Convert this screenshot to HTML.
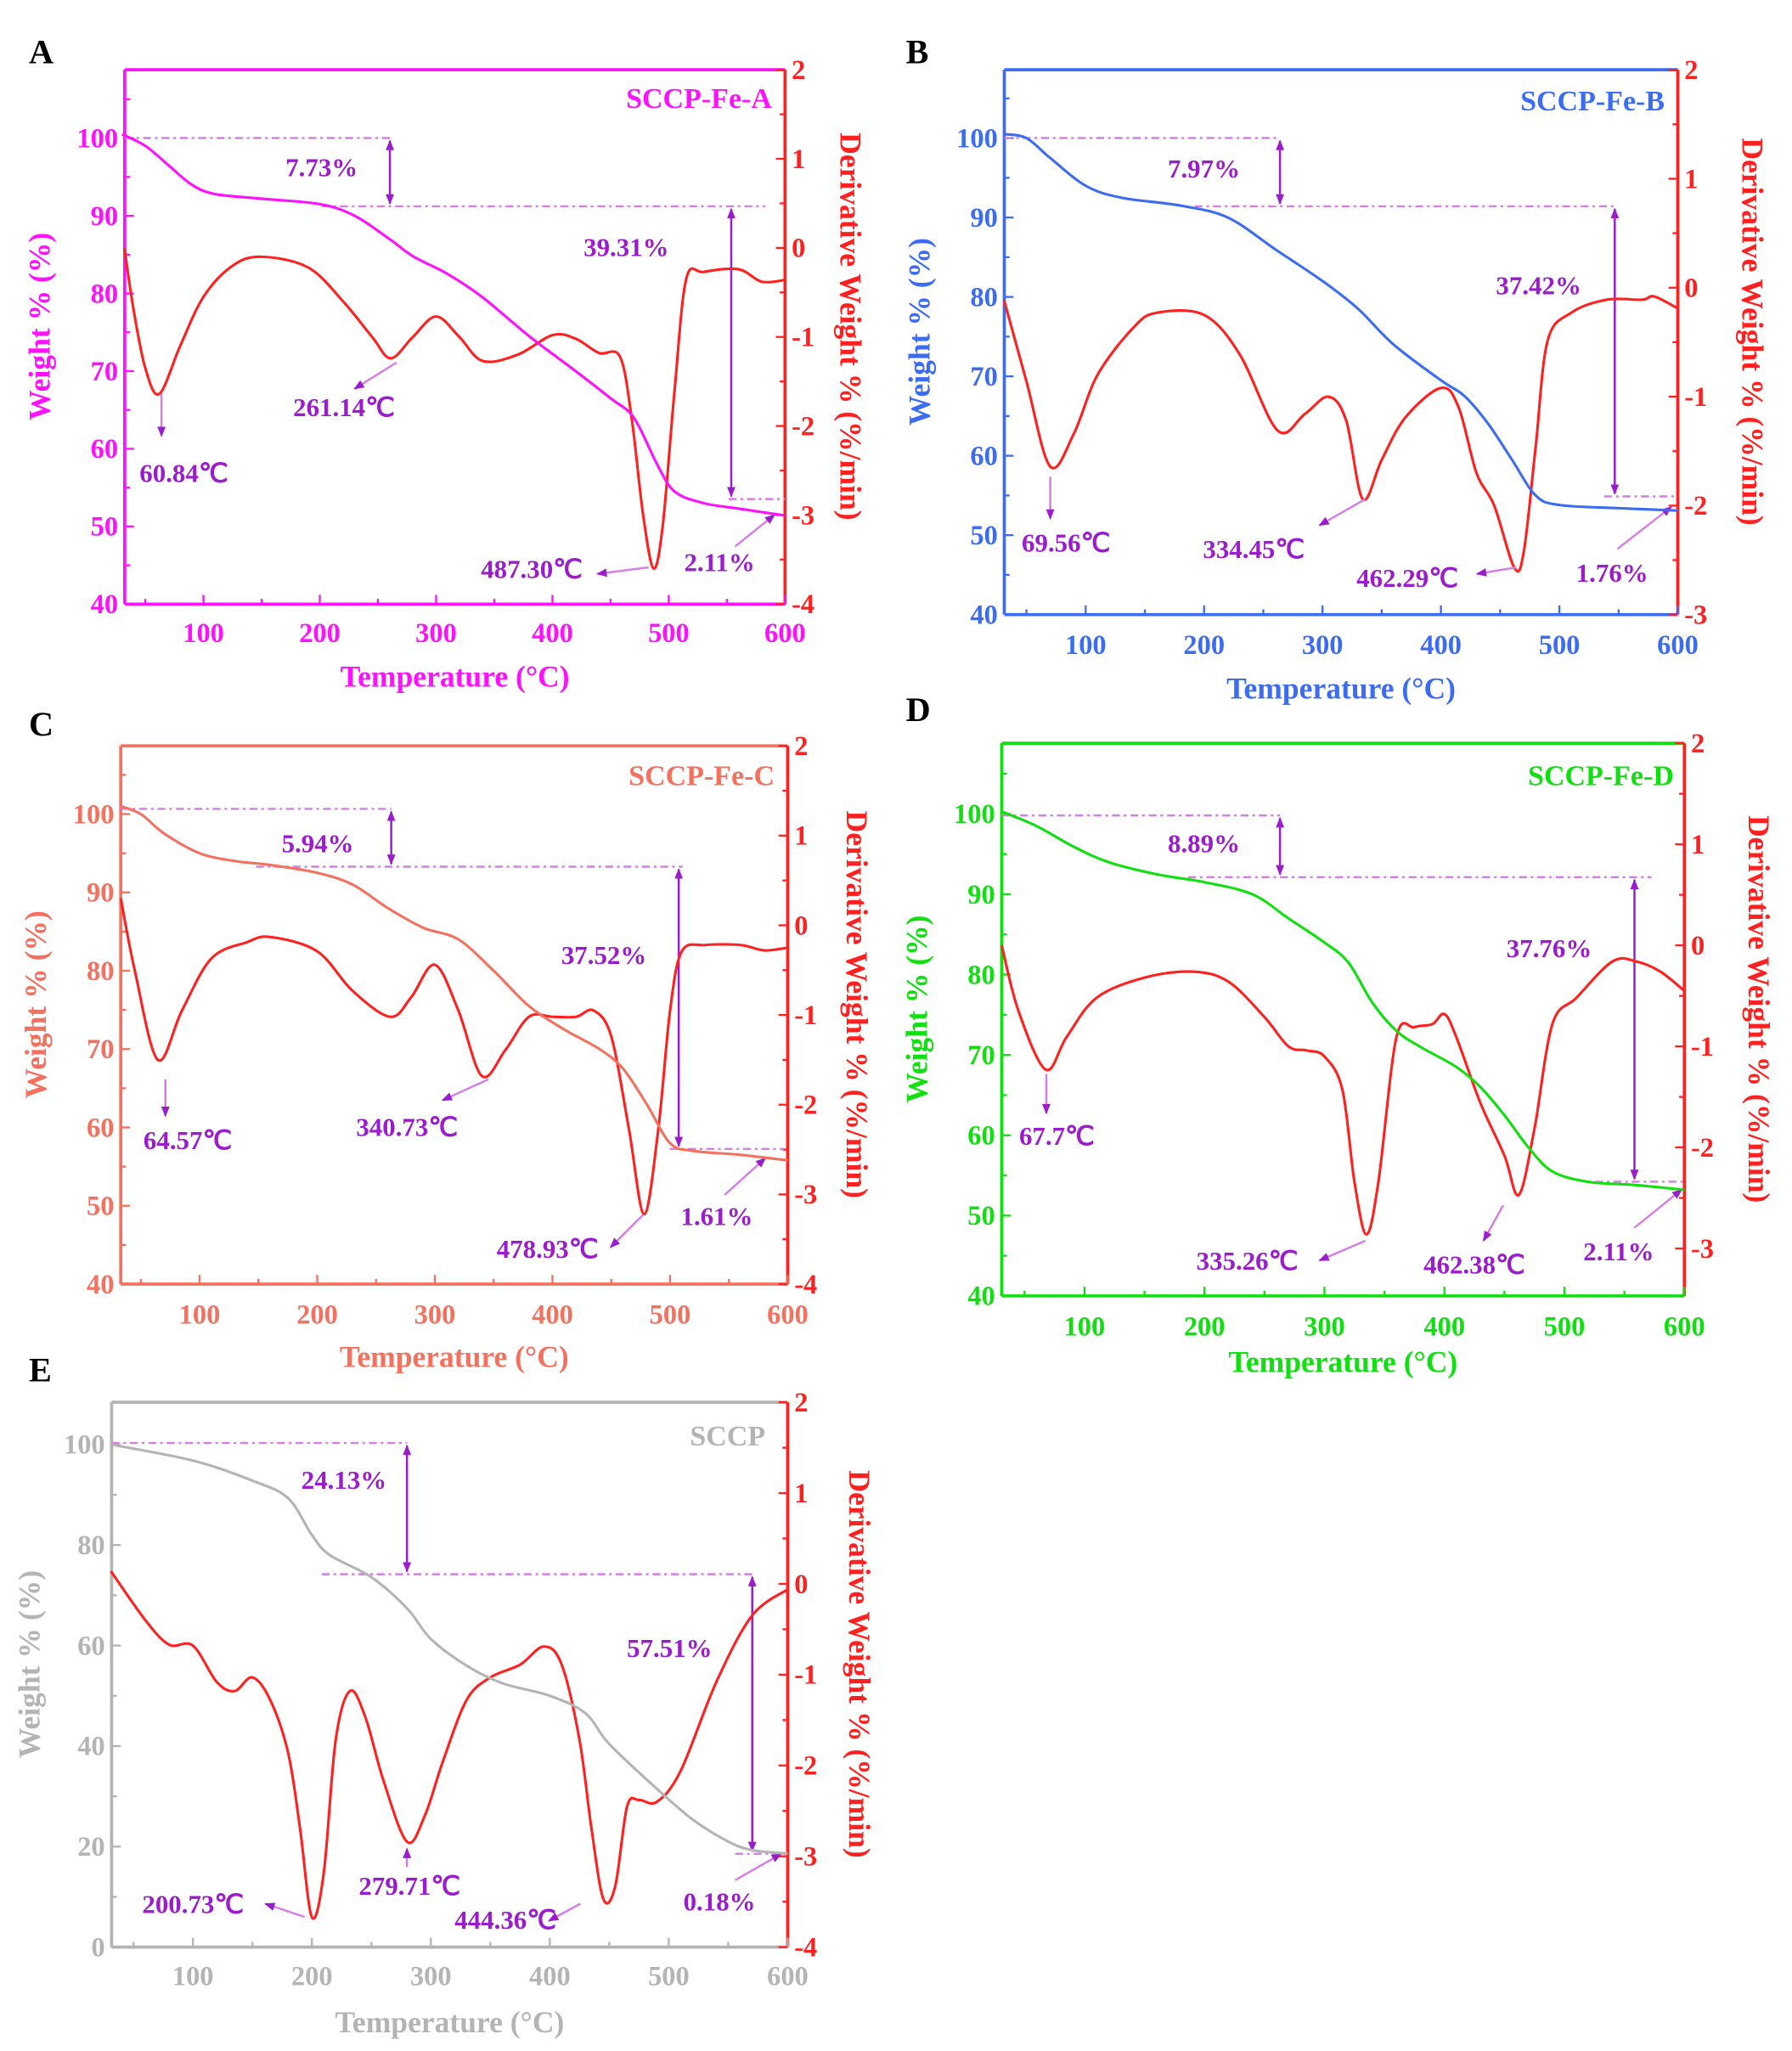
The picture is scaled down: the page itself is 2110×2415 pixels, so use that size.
<!DOCTYPE html>
<html><head><meta charset="utf-8"><title>TGA / DTG curves</title>
<style>
html,body{margin:0;padding:0;background:#fff;}
svg{display:block;font-family:"Liberation Serif",serif;}
</style></head>
<body>
<svg id="fig" width="2110" height="2415" viewBox="0 0 1365 1562" xmlns="http://www.w3.org/2000/svg"></svg>
<script>
// ---------- DATA ----------
const tgTempsA=[30,50,70,90,110,150,200,230,260,280,310,340,380,420,450,470,490,505,530,560,600];
const tgA=[100.5,99,96.5,94,92.8,92.2,91.5,90,87,84.8,82.5,79.5,74.5,70,66.5,64,58,54.5,53,52.3,51.4];
const dtgTempsA=[32,40,50,62,80,100,125,150,190,220,245,261,280,300,320,340,370,400,420,440,458,468,478,487,495,505,515,530,560,580,600];
const dtgA=[0,-0.7,-1.35,-1.64,-1.1,-0.55,-0.2,-0.1,-0.22,-0.6,-1.0,-1.24,-1.0,-0.77,-1.0,-1.27,-1.2,-0.98,-1.02,-1.18,-1.22,-1.9,-3.0,-3.6,-3.1,-1.6,-0.35,-0.27,-0.24,-0.38,-0.36];

const tgTempsB=[31,50,70,100,130,180,220,260,300,330,360,400,420,440,460,480,500,550,600];
const tgB=[100.5,100,97.5,94,92.5,91.5,90,86,82,78.5,74,69.5,67.5,64,59.5,55,53.8,53.4,53.1];
const dtgTempsB=[31,50,70,90,110,140,160,200,230,262,285,305,320,334,350,370,400,415,430,445,462,470,480,490,510,540,570,580,600];
const dtgB=[-0.11,-0.86,-1.64,-1.34,-0.8,-0.37,-0.23,-0.25,-0.61,-1.31,-1.16,-1.0,-1.22,-1.94,-1.58,-1.19,-0.92,-1.1,-1.7,-2.0,-2.57,-2.42,-1.46,-0.49,-0.23,-0.11,-0.11,-0.08,-0.19];

const tgTempsC=[33,50,70,100,130,160,200,230,260,290,320,350,380,410,440,460,480,500,520,560,600];
const tgC=[101,100,97.5,95,94,93.5,92.5,91,88,85.5,84,80,75.5,72.5,70,67.5,63,58,57,56.5,55.8];
const dtgTempsC=[33,45,64.5,85,110,140,160,200,230,262,280,300,320,340,360,380,400,420,435,450,465,478,490,500,510,530,560,580,600];
const dtgC=[0.3,-0.51,-1.5,-0.95,-0.37,-0.19,-0.13,-0.29,-0.73,-1.02,-0.8,-0.44,-0.95,-1.68,-1.39,-1.02,-1.02,-1.02,-0.95,-1.24,-2.27,-3.22,-2.27,-0.95,-0.29,-0.22,-0.22,-0.28,-0.25];

const tgTempsD=[31,60,90,120,160,200,240,270,300,320,340,360,380,410,430,450,470,490,520,560,600];
const tgD=[100.3,98.5,96,94,92.5,91.5,90,87,84,81.5,76.5,73,71,68.5,66,62.5,58.5,55.5,54.2,53.8,53.2];
const dtgTempsD=[31,45,67.7,85,110,150,190,220,250,270,285,300,315,325,335,345,360,375,390,400,410,430,450,462,475,490,510,540,560,580,600];
const dtgD=[0,-0.65,-1.23,-0.91,-0.52,-0.32,-0.26,-0.36,-0.71,-1.0,-1.04,-1.1,-1.43,-2.34,-2.86,-2.34,-0.91,-0.81,-0.78,-0.68,-0.91,-1.56,-2.08,-2.47,-1.82,-0.78,-0.52,-0.16,-0.16,-0.26,-0.45];

const tgTempsE=[31,100,150,180,200,215,250,280,300,330,360,400,430,450,490,520,550,570,600];
const tgE=[100,96.8,92.8,89.3,82,78,73.6,67.4,61.3,56,52.5,50,46.5,40.4,31.5,25.4,21,19.3,18.6];
const dtgTempsE=[31,60,80,100,120,135,150,165,180,190,200,210,220,232,245,260,280,295,310,330,350,375,395,410,425,435,445,455,465,475,490,510,540,570,600];
const dtgE=[0.14,-0.4,-0.67,-0.68,-1.08,-1.18,-1.03,-1.28,-1.86,-2.69,-3.67,-3.18,-1.72,-1.18,-1.47,-2.16,-2.84,-2.55,-1.96,-1.28,-1.03,-0.89,-0.69,-0.89,-1.72,-2.69,-3.47,-3.33,-2.45,-2.38,-2.4,-2.06,-1.08,-0.35,-0.06];

const panelLabels=["A","B","C","D","E"];
const sampleNames=["SCCP-Fe-A","SCCP-Fe-B","SCCP-Fe-C","SCCP-Fe-D","SCCP"];
const leftTicksAD=[40,50,60,70,80,90,100];
const leftTicksE=[0,20,40,60,80,100];
const xTicks=[100,200,300,400,500,600];

// ---------- LAYOUT ----------
const svg=document.getElementById('fig');
const NS='http://www.w3.org/2000/svg';
const RED='#ff2020', PUR='#9a1ccc', LPUR='#d57ee6';
function el(tag,attrs,parent){const e=document.createElementNS(NS,tag);for(const k in attrs)e.setAttribute(k,attrs[k]);(parent||svg).appendChild(e);return e;}
function txt(s,x,y,attrs,parent){const t=el('text',Object.assign({x:x,y:y},attrs),parent);t.textContent=s;return t;}

const panels=[
 {id:'a',x0:95,x1:598,tmin:32.3,y0:53,y1:460,lmin:40,lmax:108.8,rmin:-4,rmax:2,col:'#ff10ff',tg:[tgTempsA,tgA],dtg:[dtgTempsA,dtgA],lt:leftTicksAD,lminor:5,
  letter:[22,48],xt:[155,489],xtitle:523,ltitle:38,rtitle:640,
  ann:{d1:[105,297,157,245],d2:[557,380,583],d3:[555,598],p1:['7.73%',245,134],p2:['39.31%',477,195],p3:['2.11%',548,435],a3:[560,416,590,392],
   peaks:[['60.84℃',140,367,[123,300,123,332]],['261.14℃',262,317,[302,276,270,296]],['487.30℃',405,440,[494,432,455,437]]],name:[588,82]}},
 {id:'b',x0:765,x1:1278,tmin:31.3,y0:53,y1:468,lmin:40,lmax:108.6,rmin:-3,rmax:2,col:'#3b6cf2',tg:[tgTempsB,tgB],dtg:[dtgTempsB,dtgB],lt:leftTicksAD,lminor:5,
  letter:[690,48],xt:[827,498],xtitle:532,ltitle:708,rtitle:1327,
  ann:{d1:[105,975,157,910],d2:[1230,378,1230],d3:[1222,1278],p1:['7.97%',917,135],p2:['37.42%',1172,224],p3:['1.76%',1228,443],a3:[1232,418,1273,386],
   peaks:[['69.56℃',812,420,[800,363,800,395]],['334.45℃',955,425,[1040,380,1005,400]],['462.29℃',1072,447,[1155,432,1125,437]]],name:[1268,84]}},
 {id:'c',x0:92,x1:600,tmin:33,y0:568,y1:978,lmin:40,lmax:108.7,rmin:-4,rmax:2,col:'#f4705f',tg:[tgTempsC,tgC],dtg:[dtgTempsC,dtgC],lt:leftTicksAD,lminor:5,
  letter:[22,560],xt:[152,1008],xtitle:1041,ltitle:35,rtitle:645,
  ann:{d1:[616,298,660,195],d2:[517,875,520],d3:[510,597],p1:['5.94%',242,649],p2:['37.52%',460,734],p3:['1.61%',546,933],a3:[552,910,583,882],
   peaks:[['64.57℃',143,875,[126,822,126,850]],['340.73℃',310,865,[372,822,337,838]],['478.93℃',417,958,[490,925,465,950]]],name:[590,598]}},
 {id:'d',x0:763,x1:1283,tmin:31,y0:566,y1:987,lmin:40,lmax:108.8,rmin:-3.47,rmax:2,col:'#10e010',tg:[tgTempsD,tgD],dtg:[dtgTempsD,dtgD],lt:leftTicksAD,lminor:5,
  letter:[690,549],xt:[826,1017],xtitle:1045,ltitle:706,rtitle:1332,
  ann:{d1:[621,975,668,905],d2:[1245,900,1258],d3:[1215,1283],p1:['8.89%',917,649],p2:['37.76%',1180,729],p3:['2.11%',1233,960],a3:[1245,935,1281,906],
   peaks:[['67.7℃',805,872,[797,818,797,848]],['335.26℃',950,967,[1040,945,1005,960]],['462.38℃',1123,970,[1145,918,1130,945]]],name:[1275,598]}},
 {id:'e',x0:85,x1:600,tmin:31.6,y0:1068,y1:1483,lmin:0,lmax:108.4,rmin:-4,rmax:2,col:'#b4b4b4',tg:[tgTempsE,tgE],dtg:[dtgTempsE,dtgE],lt:leftTicksE,lminor:10,
  letter:[22,1052],xt:[147,1512],xtitle:1548,ltitle:30,rtitle:647,
  ann:{d1:[1099,310,1199,245],d2:[573,1412,575],d3:[560,600],p1:['24.13%',262,1134],p2:['57.51%',510,1262],p3:['0.18%',548,1455],a3:[560,1432,595,1412],
   peaks:[['200.73℃',147,1457,[232,1460,202,1450]],['279.71℃',312,1443,[310,1422,310,1408]],['444.36℃',385,1469,[442,1450,418,1463]]],name:[583,1101]}}
];

function smoothPath(pts){
  let d='M'+pts[0][0].toFixed(2)+','+pts[0][1].toFixed(2);
  for(let i=0;i<pts.length-1;i++){
    const p0=pts[i-1]||pts[i],p1=pts[i],p2=pts[i+1],p3=pts[i+2]||p2;
    const c1=[p1[0]+(p2[0]-p0[0])/6,p1[1]+(p2[1]-p0[1])/6];
    const c2=[p2[0]-(p3[0]-p1[0])/6,p2[1]-(p3[1]-p1[1])/6];
    d+=' C'+c1[0].toFixed(2)+','+c1[1].toFixed(2)+' '+c2[0].toFixed(2)+','+c2[1].toFixed(2)+' '+p2[0].toFixed(2)+','+p2[1].toFixed(2);
  }
  return d;
}

const defs=el('defs',{});
const mk=el('marker',{id:'ah',viewBox:'0 0 10 10',refX:'9',refY:'5',markerWidth:'5',markerHeight:'5',orient:'auto-start-reverse'},defs);
el('path',{d:'M0,1 L10,5 L0,9 z',fill:PUR},mk);

panels.forEach((P,pi)=>{
  const g=el('g',{});
  
  
  const X=t=>P.x0+(t-P.tmin)/(600-P.tmin)*(P.x1-P.x0);
  const YL=v=>P.y1-(v-P.lmin)/(P.lmax-P.lmin)*(P.y1-P.y0);
  const YR=v=>P.y1-(v-P.rmin)/(P.rmax-P.rmin)*(P.y1-P.y0);
  const fs=21;

  const L=txt(panelLabels[pi],P.letter[0],P.letter[1],{'font-size':26,'font-weight':'bold',fill:'#000'},g);
  
  

  const ft=el('line',{x1:P.x0,y1:P.y0,x2:P.x1,y2:P.y0,stroke:P.col,'stroke-width':2.4},g);
  
  const la=el('line',{x1:P.x0,y1:P.y0,x2:P.x0,y2:P.y1,stroke:P.col,'stroke-width':2.4},g);
  
  const ba=el('line',{x1:P.x0,y1:P.y1,x2:P.x1,y2:P.y1,stroke:P.col,'stroke-width':2.4},g);
  
  const ra=el('line',{x1:P.x1,y1:P.y0,x2:P.x1,y2:P.y1,stroke:RED,'stroke-width':2.4},g);
  

  for(let v=P.lmin;v<=P.lmax;v+=P.lminor){
    const vv=Math.round(v);
    const major=P.lt.indexOf(vv)>=0;
    el('line',{x1:P.x0,y1:YL(vv),x2:P.x0+(major?7:4),y2:YL(vv),stroke:P.col,'stroke-width':1.5},g);
  }
  P.lt.forEach(v=>{
    const t=txt(String(v),P.x0-5,YL(v)+7,{'font-size':fs,'font-weight':'bold',fill:P.col,'text-anchor':'end'},g);
    
  });
  for(let v=Math.ceil(P.rmin*2)/2;v<=P.rmax+0.01;v+=0.5){
    const major=Math.abs(v-Math.round(v))<0.01;
    el('line',{x1:P.x1,y1:YR(v),x2:P.x1-(major?7:4),y2:YR(v),stroke:RED,'stroke-width':1.5},g);
    if(major){
      const t=txt(String(Math.round(v)),P.x1+5,YR(v)+7,{'font-size':fs,'font-weight':'bold',fill:RED},g);
      
    }
  }
  for(let v=50;v<=600;v+=50){
    const major=v%100===0;
    el('line',{x1:X(v),y1:P.y1,x2:X(v),y2:P.y1-(major?7:4),stroke:P.col,'stroke-width':1.5},g);
  }
  xTicks.forEach(v=>{
    const t=txt(String(v),X(v),P.xt[1],{'font-size':fs,'font-weight':'bold',fill:P.col,'text-anchor':'middle'},g);
    
  });
  const xtl=txt('Temperature (°C)',(P.x0+P.x1)/2,P.xtitle,{'font-size':23,'font-weight':'bold',fill:P.col,'text-anchor':'middle'},g);
  
  const cy=(P.y0+P.y1)/2;
  const ytl=txt('Weight % (%)',P.ltitle+8,cy,{'font-size':23,'font-weight':'bold',fill:P.col,'text-anchor':'middle',transform:'rotate(-90 '+P.ltitle+' '+cy+')'},g);
  
  const rtl=txt('Derivative Weight % (%/min)',P.rtitle-8,cy,{'font-size':23,'font-weight':'bold',fill:RED,'text-anchor':'middle',transform:'rotate(90 '+P.rtitle+' '+cy+')'},g);
  

  const nm=txt(sampleNames[pi],P.ann.name[0],P.ann.name[1],{'font-size':22,'font-weight':'bold',fill:P.col,'text-anchor':'end'},g);
  

  const A=P.ann;
  const dash={'stroke':LPUR,'stroke-width':1.6,'stroke-dasharray':'6 3 2 3',fill:'none'};
  el('line',Object.assign({x1:P.x0,y1:A.d1[0],x2:A.d1[1],y2:A.d1[0]},dash),g);
  el('line',Object.assign({x1:A.d1[3],y1:A.d1[2],x2:A.d2[2],y2:A.d1[2]},dash),g);
  el('line',Object.assign({x1:A.d3[0],y1:A.d2[1],x2:A.d3[1],y2:A.d2[1]},dash),g);
  el('line',{x1:A.d1[1],y1:A.d1[0]+2,x2:A.d1[1],y2:A.d1[2]-2,stroke:PUR,'stroke-width':1.6,'marker-start':'url(#ah)','marker-end':'url(#ah)'},g);
  el('line',{x1:A.d2[0],y1:A.d1[2]+2,x2:A.d2[0],y2:A.d2[1]-2,stroke:PUR,'stroke-width':1.6,'marker-start':'url(#ah)','marker-end':'url(#ah)'},g);
  el('line',{x1:A.a3[0],y1:A.a3[1],x2:A.a3[2],y2:A.a3[3],stroke:LPUR,'stroke-width':1.6,'marker-end':'url(#ah)'},g);
  [A.p1,A.p2,A.p3].forEach(p=>{
    const t=txt(p[0],p[1],p[2],{'font-size':20,'font-weight':'bold',fill:PUR,'text-anchor':'middle'},g);
    
  });

  const dp=P.dtg[0].map((t,i)=>[X(t),YR(P.dtg[1][i])]);
  const dl=el('path',{d:smoothPath(dp),fill:'none',stroke:RED,'stroke-width':2},g);
  
  const tp=P.tg[0].map((t,i)=>[X(t),YL(P.tg[1][i])]);
  const tl=el('path',{d:smoothPath(tp),fill:'none',stroke:P.col,'stroke-width':2},g);
  

  A.peaks.forEach(pk=>{
    el('line',{x1:pk[3][0],y1:pk[3][1],x2:pk[3][2],y2:pk[3][3],stroke:LPUR,'stroke-width':1.6,'marker-end':'url(#ah)'},g);
    const t=txt(pk[0],pk[1],pk[2],{'font-size':20,'font-weight':'bold',fill:PUR,'text-anchor':'middle'},g);
    
  });
});
</script>
</body></html>
